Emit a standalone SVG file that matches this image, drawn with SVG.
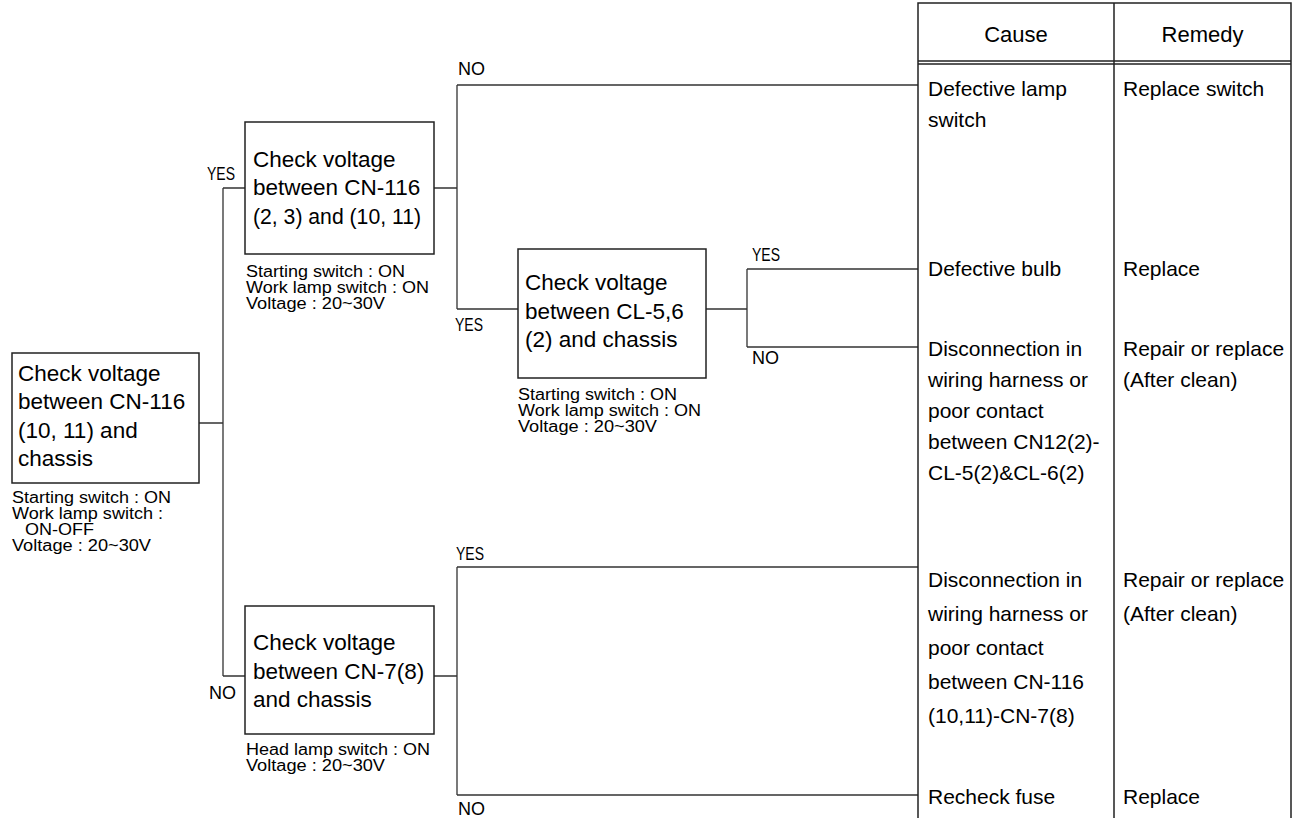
<svg xmlns="http://www.w3.org/2000/svg" width="1301" height="818" viewBox="0 0 1301 818">
<style>
text{font-family:"Liberation Sans",Arial,sans-serif;fill:#000}
.bx{fill:#fff;stroke:#222;stroke-width:1.5}
.t{font-size:22.5px}
.s{font-size:16px}
.c{font-size:21px}
.h{font-size:22px;text-anchor:middle}
.l{font-size:18px}
.ln{fill:none;stroke:#333;stroke-width:1.3}
.tb{fill:none;stroke:#222;stroke-width:1.5}
</style>
<rect width="1301" height="818" fill="#fff"/>
<g id="connectors">
<path class="ln" d="M199,423H223M223,188V676M223,188H245M223,676H245"/>
<path class="ln" d="M434,188H457M457,85V309M457,85H918M457,309H518"/>
<path class="ln" d="M706,309H747M747,269V347M747,269H918M747,347H918"/>
<path class="ln" d="M434,676H457M457,567V795M457,567H918M457,795H918"/>
<text class="l" x="207" y="180" textLength="28" lengthAdjust="spacingAndGlyphs">YES</text>
<text class="l" x="209" y="699">NO</text>
<text class="l" x="458" y="75">NO</text>
<text class="l" x="455" y="331" textLength="28" lengthAdjust="spacingAndGlyphs">YES</text>
<text class="l" x="752" y="261" textLength="28" lengthAdjust="spacingAndGlyphs">YES</text>
<text class="l" x="752" y="364">NO</text>
<text class="l" x="456" y="560" textLength="28" lengthAdjust="spacingAndGlyphs">YES</text>
<text class="l" x="458" y="815">NO</text>
</g>
<g id="node-start">
<rect class="bx" x="12" y="353" width="187" height="130"/>
<text class="t" x="18" y="380.5">Check voltage</text>
<text class="t" x="18" y="409">between CN-116</text>
<text class="t" x="18" y="437.5">(10, 11) and</text>
<text class="t" x="18" y="466">chassis</text>
<text class="s" x="12" y="503" textLength="159" lengthAdjust="spacingAndGlyphs">Starting switch : ON</text>
<text class="s" x="12" y="519" textLength="151" lengthAdjust="spacingAndGlyphs">Work lamp switch :</text>
<text class="s" x="25" y="535" textLength="69" lengthAdjust="spacingAndGlyphs">ON-OFF</text>
<text class="s" x="12" y="551" textLength="139" lengthAdjust="spacingAndGlyphs">Voltage : 20~30V</text>
</g>
<g id="node-cn116">
<rect class="bx" x="245" y="122" width="189" height="132"/>
<text class="t" x="253" y="166.5">Check voltage</text>
<text class="t" x="253" y="195">between CN-116</text>
<text class="t" x="253" y="223.5" textLength="168" lengthAdjust="spacingAndGlyphs">(2, 3) and (10, 11)</text>
<text class="s" x="246" y="277" textLength="159" lengthAdjust="spacingAndGlyphs">Starting switch : ON</text>
<text class="s" x="246" y="293" textLength="183" lengthAdjust="spacingAndGlyphs">Work lamp switch : ON</text>
<text class="s" x="246" y="309" textLength="139" lengthAdjust="spacingAndGlyphs">Voltage : 20~30V</text>
</g>
<g id="node-cl56">
<rect class="bx" x="518" y="249" width="188" height="129"/>
<text class="t" x="525" y="290">Check voltage</text>
<text class="t" x="525" y="318.5">between CL-5,6</text>
<text class="t" x="525" y="347">(2) and chassis</text>
<text class="s" x="518" y="400" textLength="159" lengthAdjust="spacingAndGlyphs">Starting switch : ON</text>
<text class="s" x="518" y="416" textLength="183" lengthAdjust="spacingAndGlyphs">Work lamp switch : ON</text>
<text class="s" x="518" y="432" textLength="139" lengthAdjust="spacingAndGlyphs">Voltage : 20~30V</text>
</g>
<g id="node-cn7">
<rect class="bx" x="245" y="606" width="189" height="128"/>
<text class="t" x="253" y="650">Check voltage</text>
<text class="t" x="253" y="678.5">between CN-7(8)</text>
<text class="t" x="253" y="707">and chassis</text>
<text class="s" x="246" y="755" textLength="184" lengthAdjust="spacingAndGlyphs">Head lamp switch : ON</text>
<text class="s" x="246" y="771" textLength="139" lengthAdjust="spacingAndGlyphs">Voltage : 20~30V</text>
</g>
<g id="table">
<path class="tb" d="M918,818V3H1291V818M1114,3V818M918,61H1291M918,64H1291"/>
<text class="h" x="1016" y="42">Cause</text>
<text class="h" x="1202.5" y="42">Remedy</text>
<text class="c" x="928" y="96">Defective lamp</text>
<text class="c" x="928" y="127">switch</text>
<text class="c" x="1123" y="96">Replace switch</text>
<text class="c" x="928" y="276">Defective bulb</text>
<text class="c" x="1123" y="276">Replace</text>
<text class="c" x="928" y="356">Disconnection in</text>
<text class="c" x="928" y="387">wiring harness or</text>
<text class="c" x="928" y="418">poor contact</text>
<text class="c" x="928" y="449">between CN12(2)-</text>
<text class="c" x="928" y="480">CL-5(2)&amp;CL-6(2)</text>
<text class="c" x="1123" y="356">Repair or replace</text>
<text class="c" x="1123" y="387">(After clean)</text>
<text class="c" x="928" y="587">Disconnection in</text>
<text class="c" x="928" y="621">wiring harness or</text>
<text class="c" x="928" y="655">poor contact</text>
<text class="c" x="928" y="689">between CN-116</text>
<text class="c" x="928" y="723">(10,11)-CN-7(8)</text>
<text class="c" x="1123" y="587">Repair or replace</text>
<text class="c" x="1123" y="621">(After clean)</text>
<text class="c" x="928" y="804">Recheck fuse</text>
<text class="c" x="1123" y="804">Replace</text>
</g>
</svg>
